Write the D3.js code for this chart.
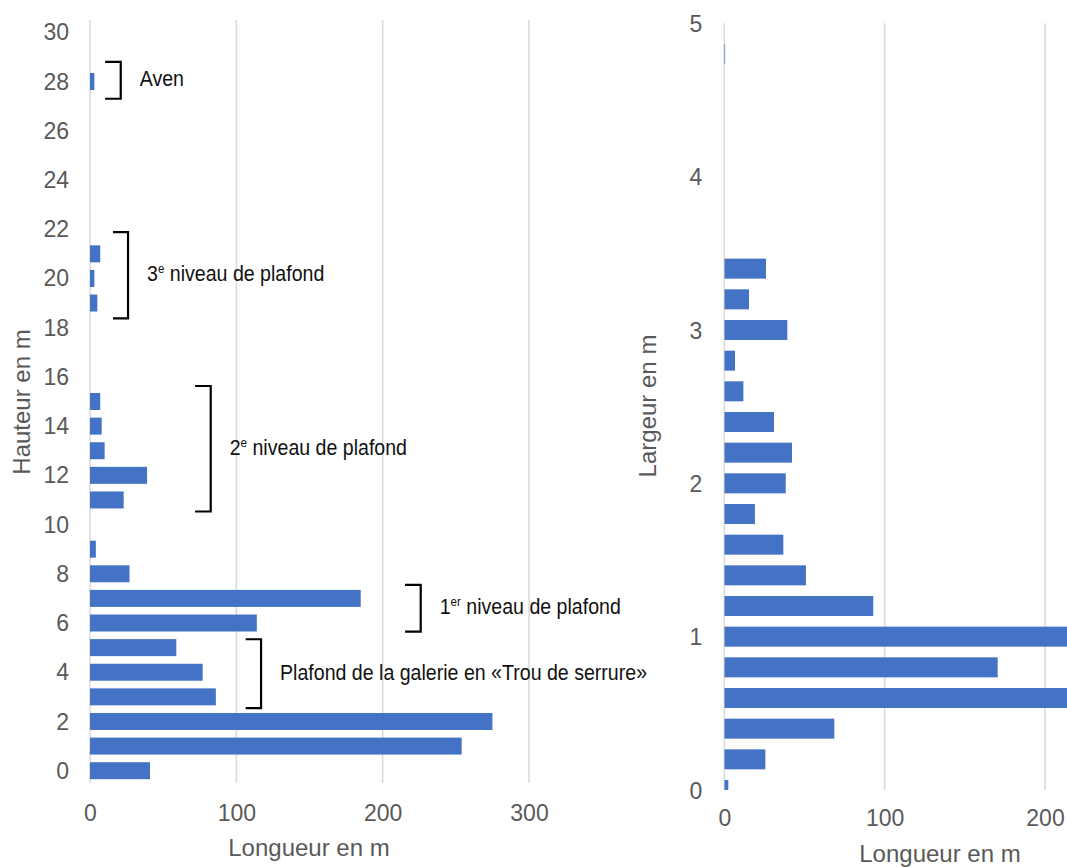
<!DOCTYPE html>
<html>
<head>
<meta charset="utf-8">
<script src="https://cdn.jsdelivr.net/npm/d3@7"></script>
<style>
  html, body { margin: 0; padding: 0; background: #fff; }
  svg { display: block; }
</style>
</head>
<body>
<svg id="chart" width="1067" height="867"></svg>
<script>
// ---------- DATA ----------
// Left chart: height (m) categories and length (m)
const heightCats = [0,1,2,3,4,5,6,7,8,9,10,11,12,13,14,15,16,17,18,19,20,21,22,23,24,25,26,27,28,29,30];
const heightLengths = [41,254,275,86,77,59,114,185,27,4,0,23,39,10,8,7,0,0,0,5,3,7,0,0,0,0,0,0,3,0,0];
const heightTickLabels = [0,2,4,6,8,10,12,14,16,18,20,22,24,26,28,30];
const leftXTicks = [0,100,200,300];

// Right chart: width (m) values and length (m)
const widthCats = [0,0.2,0.4,0.6,0.8,1.0,1.2,1.4,1.6,1.8,2.0,2.2,2.4,2.6,2.8,3.0,3.2,3.4,4.8];
const widthLengths = [2.5,25.6,68.6,235,170.5,240,92.9,50.9,36.8,19.1,38.3,42.2,31,11.9,6.7,39.3,15.4,26,0.5];
const widthTickLabels = [0,1,2,3,4,5];
const rightXTicks = [0,100,200];

// Annotations (brackets) in data units of the left chart
const annotations = [
  {parts:[{t:"Aven"}], y0:27.3, y1:28.8, x0:10.3, x1:21},
  {parts:[{t:"3"},{t:"e",sup:true},{t:" niveau de plafond"}], y0:18.38, y1:21.88, x0:15.7, x1:26},
  {parts:[{t:"2"},{t:"e",sup:true},{t:" niveau de plafond"}], y0:10.53, y1:15.63, x0:71.8, x1:82.5},
  {parts:[{t:"1"},{t:"er",sup:true},{t:" niveau de plafond"}], y0:5.65, y1:7.55, x0:215.3, x1:226},
  {parts:[{t:"Plafond de la galerie en «Trou de serrure»"}], y0:2.54, y1:5.34, x0:106.4, x1:116.9}
];

// ---------- DRAW ----------
const svg = d3.select("#chart");
const BAR = "#4472C4", GRID = "#d9d9d9", TXT = "#595959";
const FONT = "'Liberation Sans', Arial, sans-serif";
const TICK_FS = "23px", TITLE_FS = "24px";

// ---- Left chart ----
const L = {left:90, right:529, top:20, bottom:783};
const xL = d3.scaleLinear().domain([0,300]).range([L.left, L.right]);
const yL = d3.scaleBand().domain(heightCats).range([L.bottom, L.top]).paddingInner(0.31).paddingOuter(0.155);
const yLlin = d3.scaleLinear().domain([-0.5, 30.5]).range([L.bottom, L.top]);

const gL = svg.append("g");
gL.selectAll("line.grid").data(leftXTicks).join("line")
  .attr("x1", d => xL(d)).attr("x2", d => xL(d))
  .attr("y1", L.top).attr("y2", L.bottom)
  .attr("stroke", GRID).attr("stroke-width", 1.5);

gL.selectAll("rect.bar").data(heightCats.map((c,i)=>({c, v:heightLengths[i]})).filter(d=>d.v>0))
  .join("rect").attr("class","bar")
  .attr("x", xL(0)).attr("y", d => yL(d.c))
  .attr("width", d => xL(d.v) - xL(0)).attr("height", yL.bandwidth())
  .attr("fill", BAR);

const yAxisL = gL.append("g").attr("transform", `translate(${L.left},0)`)
  .call(d3.axisLeft(yL).tickValues(heightTickLabels).tickSize(0).tickPadding(21));
const xAxisL = gL.append("g").attr("transform", `translate(0,${L.bottom})`)
  .call(d3.axisBottom(xL).tickValues(leftXTicks).tickSize(0));
xAxisL.selectAll("text").attr("y", 30).attr("dy", "0.35em");

[yAxisL, xAxisL].forEach(a => {
  a.select(".domain").remove();
  a.selectAll("text").attr("fill", TXT).style("font-family", FONT).style("font-size", TICK_FS);
});
yAxisL.selectAll("text").attr("dy", "0.35em");

gL.append("text").text("Longueur en m")
  .attr("x", 309).attr("y", 848).attr("dy", "0.35em").attr("text-anchor", "middle")
  .attr("fill", TXT).style("font-family", FONT).style("font-size", TITLE_FS);
gL.append("text").text("Hauteur en m")
  .attr("transform", "translate(22,402) rotate(-90)").attr("dy", "0.35em").attr("text-anchor", "middle")
  .attr("fill", TXT).style("font-family", FONT).style("font-size", TITLE_FS);

// Annotations
const ann = gL.selectAll("g.ann").data(annotations).join("g").attr("class","ann");
ann.append("path")
  .attr("d", d => `M${xL(d.x0)},${yLlin(d.y1)}H${xL(d.x1)}V${yLlin(d.y0)}H${xL(d.x0)}`)
  .attr("fill", "none").attr("stroke", "#000").attr("stroke-width", 2.2);
const at = ann.append("text")
  .attr("transform", d => `translate(${xL(d.x1) + 19},${(yLlin(d.y0) + yLlin(d.y1)) / 2 + 6}) scale(0.89,1)`)
  .attr("fill", "#111").style("font-family", FONT).style("font-size", "22px");
at.each(function(d) {
  const t = d3.select(this);
  d.parts.forEach(p => {
    const s = t.append("tspan").text(p.t);
    if (p.sup) s.style("font-size", "13px").attr("dy", -8);
    else if (t.selectAll("tspan").size() > 1) s.attr("dy", 8);
  });
});

// ---- Right chart ----
const R = {left:724.3, top:23.3, bottom:790};
const xR = d3.scaleLinear().domain([0,200]).range([R.left, 1045]);
const yR = d3.scaleLinear().domain([0,5]).range([R.bottom, R.top]);
const barH = 20;

svg.append("defs").append("clipPath").attr("id","clipR")
  .append("rect").attr("x", R.left).attr("y", R.top).attr("width", 1067 - R.left).attr("height", R.bottom - R.top);

const gR = svg.append("g");
gR.selectAll("line.grid").data(rightXTicks).join("line")
  .attr("x1", d => xR(d)).attr("x2", d => xR(d))
  .attr("y1", R.top).attr("y2", R.bottom)
  .attr("stroke", GRID).attr("stroke-width", 1.5);

gR.append("g").attr("clip-path", "url(#clipR)")
  .selectAll("rect").data(widthCats.map((c,i)=>({c, v:widthLengths[i]})))
  .join("rect")
  .attr("x", xR(0)).attr("y", d => yR(d.c) - barH/2)
  .attr("width", d => xR(d.v) - xR(0)).attr("height", barH)
  .attr("fill", BAR);

const yAxisR = gR.append("g").attr("transform", `translate(${R.left},0)`)
  .call(d3.axisLeft(yR).tickValues(widthTickLabels).tickFormat(d3.format("d")).tickSize(0).tickPadding(22));
const xAxisR = gR.append("g").attr("transform", `translate(0,${R.bottom})`)
  .call(d3.axisBottom(xR).tickValues(rightXTicks).tickSize(0));
xAxisR.selectAll("text").attr("y", 28).attr("dy", "0.35em");
[yAxisR, xAxisR].forEach(a => {
  a.select(".domain").remove();
  a.selectAll("text").attr("fill", TXT).style("font-family", FONT).style("font-size", TICK_FS);
});
yAxisR.selectAll("text").attr("dy", "0.35em");

gR.append("text").text("Longueur en m")
  .attr("x", 940).attr("y", 854).attr("dy", "0.35em").attr("text-anchor", "middle")
  .attr("fill", TXT).style("font-family", FONT).style("font-size", TITLE_FS);
gR.append("text").text("Largeur en m")
  .attr("transform", "translate(648,406) rotate(-90)").attr("dy", "0.35em").attr("text-anchor", "middle")
  .attr("fill", TXT).style("font-family", FONT).style("font-size", TITLE_FS);
</script>
</body>
</html>
